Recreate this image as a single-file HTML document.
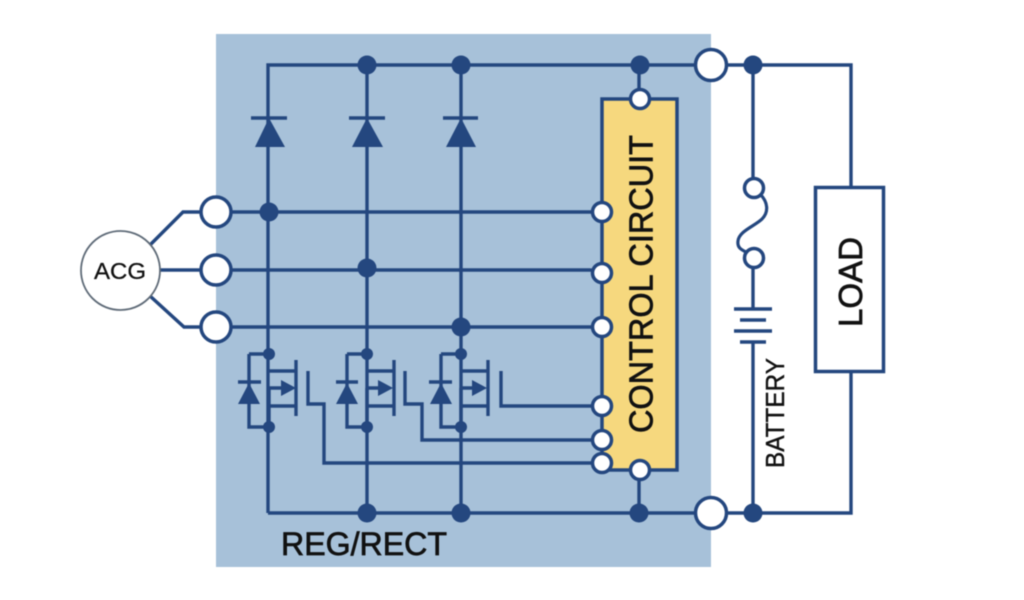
<!DOCTYPE html>
<html><head><meta charset="utf-8"><style>
html,body{margin:0;padding:0;background:#fff}
svg{display:block;filter:blur(.4px)}
text{font-family:"Liberation Sans",sans-serif;fill:#111;stroke:#111;stroke-width:.7}
</style></head><body>
<svg width="1024" height="600" viewBox="0 0 1024 600" xmlns="http://www.w3.org/2000/svg">
<rect width="1024" height="600" fill="#fff"/>
<rect x="216" y="34" width="495" height="533" fill="#a7c1d9"/>
<rect x="602" y="99" width="75" height="371" fill="#f6d87e" stroke="#24477f" stroke-width="3.5"/>
<g fill="none" stroke="#24477f" stroke-width="3.4">
<path d="M268 187V65H851V187M268 513H851V371M367 65V513M461 65V513M268 147V513M639 65V99M639 470V513"/>
<path d="M753 65V180M753 267V309M753 342V513"/>
<path d="M734 309H772M740 320H766M734 331H772M740 342H766"/>
<path d="M760 194C768 202 769 212 762 219C755 226 739 231 738 241C737 248 742 250 746 252" stroke-width="3.2"/>
<path d="M150 245L183 212H216M160 270H216M150 296L184 327H216"/>
<path d="M216 212H602M216 270H590L602 272M216 327H602"/>
<path d="M249 354H269M249 354V427H269M269 371H296M296 360V416M269 388H285M269 388V427M269 406H296"/>
<path d="M347 354H367M347 354V427H367M367 371H394M394 360V416M367 388H380M367 388V427M367 406H394"/>
<path d="M441 354H461M441 354V427H461M461 371H488M488 360V416M461 388H474M461 388V427M461 406H488"/>
<path d="M238 382H261M336 382H358M429 382H452M251 118H287M349 118H385M443 118H478"/>
<path d="M308 371V404H324V463H602M405 371V404H422V440H602M501 371V406H602"/>
</g>
<rect x="815.5" y="187.5" width="68" height="184" fill="#fff" stroke="#24477f" stroke-width="3.5"/>
<g fill="#24477f">
<path d="M269 118L285 147H255ZM367 118L383 147H352ZM461 118L476 147H446Z"/>
<path d="M249 383L260 404H238ZM347 383L358 404H336ZM441 383L452 404H430Z"/>
<path d="M281 380L296 388L281 396ZM378 380L393 388L378 396ZM472 380L487 388L472 396Z"/>
<circle cx="367" cy="65" r="9.5"/><circle cx="461" cy="65" r="9.5"/><circle cx="640" cy="65" r="9.5"/><circle cx="753" cy="65" r="9.5"/>
<circle cx="269" cy="212" r="9.5"/><circle cx="367" cy="268" r="9.5"/><circle cx="461" cy="327" r="9.5"/>
<circle cx="367" cy="513" r="9.5"/><circle cx="461" cy="513" r="9.5"/><circle cx="639" cy="513" r="9.5"/><circle cx="753" cy="513" r="9.5"/>
<circle cx="269" cy="354" r="6"/><circle cx="269" cy="427" r="6"/><circle cx="367" cy="354" r="6"/><circle cx="367" cy="427" r="6"/><circle cx="461" cy="354" r="6"/><circle cx="461" cy="427" r="6"/>
</g>
<g fill="#fff" stroke="#24477f" stroke-width="3.5">
<circle cx="711" cy="65" r="15.5"/><circle cx="711" cy="513" r="15.5"/>
<circle cx="216" cy="212" r="15"/><circle cx="216" cy="270" r="15"/><circle cx="216" cy="327" r="15"/>
<circle cx="640" cy="99" r="9.5"/><circle cx="640" cy="470" r="9.5"/>
<circle cx="602" cy="212" r="9.5"/><circle cx="602" cy="273" r="9.5"/><circle cx="602" cy="327" r="9.5"/>
<circle cx="602" cy="406" r="9.5"/><circle cx="602" cy="440" r="9.5"/><circle cx="602" cy="463" r="9.5"/>
<circle cx="754" cy="188" r="9.5"/><circle cx="754" cy="258" r="9.5"/>
</g>
<circle cx="120.5" cy="270.5" r="39.5" fill="#fff" stroke="#5f6b78" stroke-width="1.8"/>
<text x="94" y="279" font-size="23.5" textLength="52" lengthAdjust="spacingAndGlyphs" style="stroke-width:.3">ACG</text>
<text x="281" y="555" font-size="32" textLength="166" lengthAdjust="spacingAndGlyphs">REG/RECT</text>
<text transform="translate(652.5 433) rotate(-90)" font-size="33" textLength="298" lengthAdjust="spacingAndGlyphs">CONTROL CIRCUIT</text>
<text transform="translate(862 327) rotate(-90)" font-size="33" textLength="90" lengthAdjust="spacingAndGlyphs">LOAD</text>
<text transform="translate(784 468) rotate(-90)" font-size="26" textLength="110" lengthAdjust="spacingAndGlyphs" style="stroke-width:.4">BATTERY</text>
</svg>
</body></html>
